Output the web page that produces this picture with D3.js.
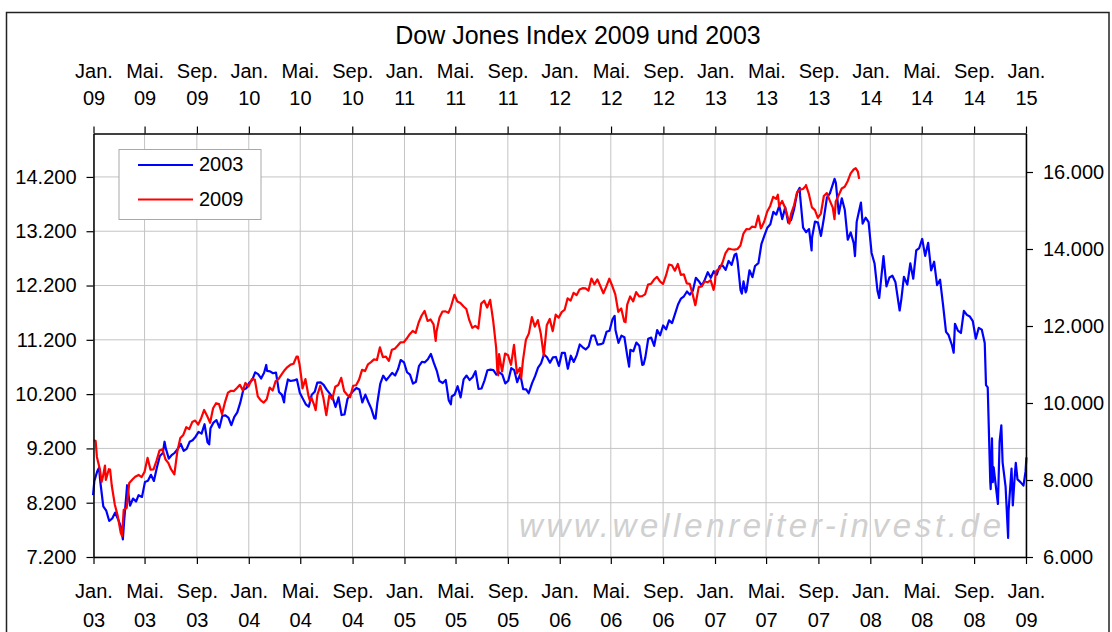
<!DOCTYPE html>
<html>
<head>
<meta charset="utf-8">
<script src="https://cdn.jsdelivr.net/npm/d3@7"></script>
<style>
  body { margin: 0; background: #fff; }
  svg { display: block; font-family: "Liberation Sans", Arial, sans-serif; }
</style>
</head>
<body>
<svg id="chart" width="1112" height="632"></svg>
<script>
// Dow Jones closes 2003-2008 (left axis, bottom time axis)
const dow2003 = [
  ["2002-12-31",8341],["2003-01-03",8601],["2003-01-10",8785],["2003-01-14",8842],["2003-01-17",8586],
  ["2003-01-24",8131],["2003-01-31",8053],["2003-02-07",7864],["2003-02-14",7909],["2003-02-21",8018],
  ["2003-02-28",7891],["2003-03-07",7740],["2003-03-11",7524],["2003-03-14",7859],["2003-03-21",8522],
  ["2003-03-28",8145],["2003-04-04",8277],["2003-04-11",8221],["2003-04-17",8338],["2003-04-25",8307],
  ["2003-05-02",8583],["2003-05-09",8604],["2003-05-16",8713],["2003-05-23",8601],["2003-05-30",8850],
  ["2003-06-06",9062],["2003-06-13",9117],["2003-06-17",9323],["2003-06-20",9201],["2003-06-27",9011],
  ["2003-07-03",9070],["2003-07-11",9120],["2003-07-18",9189],["2003-07-25",9285],["2003-08-01",9154],
  ["2003-08-08",9191],["2003-08-15",9321],["2003-08-22",9349],["2003-08-29",9416],["2003-09-05",9504],
  ["2003-09-12",9472],["2003-09-19",9645],["2003-09-26",9313],["2003-09-30",9275],["2003-10-03",9573],
  ["2003-10-10",9675],["2003-10-17",9722],["2003-10-24",9583],["2003-10-31",9801],["2003-11-07",9810],
  ["2003-11-14",9769],["2003-11-21",9629],["2003-11-28",9782],["2003-12-05",9863],["2003-12-12",10042],
  ["2003-12-19",10278],["2003-12-26",10306],
  ["2004-01-02",10409],["2004-01-09",10458],["2004-01-16",10600],["2004-01-23",10568],["2004-01-30",10488],
  ["2004-02-06",10593],["2004-02-11",10737],["2004-02-13",10628],["2004-02-20",10620],["2004-02-27",10584],
  ["2004-03-05",10595],["2004-03-12",10240],["2004-03-19",10186],["2004-03-24",10048],["2004-03-26",10213],
  ["2004-04-02",10470],["2004-04-08",10442],["2004-04-16",10452],["2004-04-23",10472],["2004-04-30",10226],
  ["2004-05-07",10117],["2004-05-14",10012],["2004-05-21",9967],["2004-05-28",10188],["2004-06-04",10242],
  ["2004-06-10",10410],["2004-06-18",10416],["2004-06-25",10371],["2004-07-02",10282],["2004-07-09",10213],
  ["2004-07-16",10140],["2004-07-23",9962],["2004-07-30",10140],["2004-08-06",9815],["2004-08-13",9825],
  ["2004-08-20",10110],["2004-08-27",10195],["2004-09-03",10260],["2004-09-10",10314],["2004-09-17",10284],
  ["2004-09-24",10047],["2004-10-01",10192],["2004-10-08",10055],["2004-10-15",9933],["2004-10-22",9758],
  ["2004-10-25",9749],["2004-10-29",10027],["2004-11-05",10387],["2004-11-12",10539],["2004-11-19",10456],
  ["2004-11-26",10522],["2004-12-03",10592],["2004-12-10",10543],["2004-12-17",10661],["2004-12-23",10828],
  ["2004-12-31",10783],
  ["2005-01-07",10603],["2005-01-14",10558],["2005-01-21",10393],["2005-01-28",10427],["2005-02-04",10716],
  ["2005-02-11",10796],["2005-02-18",10785],["2005-02-25",10841],["2005-03-04",10940],["2005-03-11",10774],
  ["2005-03-18",10629],["2005-03-24",10442],["2005-04-01",10404],["2005-04-08",10461],["2005-04-15",10088],
  ["2005-04-20",10012],["2005-04-22",10157],["2005-04-29",10192],["2005-05-06",10345],["2005-05-13",10140],
  ["2005-05-20",10471],["2005-05-27",10542],["2005-06-03",10460],["2005-06-10",10512],["2005-06-17",10623],
  ["2005-06-24",10297],["2005-07-01",10303],["2005-07-08",10449],["2005-07-15",10640],["2005-07-22",10651],
  ["2005-07-29",10641],["2005-08-05",10558],["2005-08-12",10600],["2005-08-19",10559],["2005-08-26",10397],
  ["2005-09-02",10447],["2005-09-09",10678],["2005-09-16",10641],["2005-09-23",10420],["2005-09-30",10569],
  ["2005-10-07",10292],["2005-10-14",10287],["2005-10-20",10216],["2005-10-28",10403],["2005-11-04",10531],
  ["2005-11-11",10686],["2005-11-18",10766],["2005-11-25",10931],["2005-12-02",10878],["2005-12-09",10779],
  ["2005-12-16",10876],["2005-12-23",10884],["2005-12-30",10718],
  ["2006-01-06",10959],["2006-01-13",10960],["2006-01-20",10668],["2006-01-27",10907],["2006-02-03",10793],
  ["2006-02-10",10919],["2006-02-17",11115],["2006-02-24",11062],["2006-03-03",11022],["2006-03-10",11077],
  ["2006-03-17",11280],["2006-03-24",11279],["2006-03-31",11109],["2006-04-07",11120],["2006-04-13",11138],
  ["2006-04-21",11347],["2006-04-28",11367],["2006-05-05",11578],["2006-05-10",11642],["2006-05-12",11380],
  ["2006-05-19",11144],["2006-05-26",11278],["2006-06-02",11247],["2006-06-09",10891],["2006-06-13",10706],
  ["2006-06-16",11015],["2006-06-23",10989],["2006-06-30",11150],["2006-07-07",11090],["2006-07-14",10739],
  ["2006-07-17",10747],["2006-07-21",10868],["2006-07-28",11219],["2006-08-04",11240],["2006-08-11",11088],
  ["2006-08-18",11381],["2006-08-25",11284],["2006-09-01",11464],["2006-09-08",11392],["2006-09-15",11560],
  ["2006-09-22",11508],["2006-09-29",11679],["2006-10-06",11850],["2006-10-13",11960],["2006-10-20",12002],
  ["2006-10-27",12090],["2006-11-03",12031],["2006-11-10",12108],["2006-11-17",12342],["2006-11-24",12280],
  ["2006-12-01",12194],["2006-12-08",12307],["2006-12-15",12445],["2006-12-22",12343],["2006-12-29",12463],
  ["2007-01-05",12398],["2007-01-12",12556],["2007-01-19",12565],["2007-01-26",12487],["2007-02-02",12653],
  ["2007-02-09",12580],["2007-02-16",12768],["2007-02-20",12786],["2007-02-23",12647],["2007-03-02",12114],
  ["2007-03-05",12050],["2007-03-09",12276],["2007-03-14",12075],["2007-03-16",12110],["2007-03-23",12481],
  ["2007-03-30",12354],["2007-04-05",12560],["2007-04-13",12612],["2007-04-20",12961],["2007-04-27",13120],
  ["2007-05-04",13265],["2007-05-11",13327],["2007-05-18",13556],["2007-05-25",13507],["2007-06-01",13668],
  ["2007-06-08",13424],["2007-06-15",13639],["2007-06-22",13360],["2007-06-29",13409],["2007-07-06",13611],
  ["2007-07-13",13907],["2007-07-19",14000],["2007-07-20",13851],["2007-07-27",13265],["2007-08-03",13182],
  ["2007-08-10",13240],["2007-08-16",12846],["2007-08-17",13079],["2007-08-24",13379],["2007-08-31",13358],
  ["2007-09-07",13114],["2007-09-14",13443],["2007-09-21",13820],["2007-09-28",13896],["2007-10-05",14066],
  ["2007-10-09",14165],["2007-10-12",14093],["2007-10-19",13522],["2007-10-26",13807],["2007-11-02",13596],
  ["2007-11-09",13043],["2007-11-16",13177],["2007-11-23",12981],["2007-11-26",12743],["2007-11-30",13372],
  ["2007-12-07",13625],["2007-12-10",13727],["2007-12-14",13340],["2007-12-21",13450],["2007-12-28",13366],
  ["2008-01-04",12800],["2008-01-11",12606],["2008-01-18",12099],["2008-01-22",11971],["2008-01-25",12207],
  ["2008-02-01",12743],["2008-02-08",12182],["2008-02-15",12348],["2008-02-22",12381],["2008-02-29",12266],
  ["2008-03-07",11894],["2008-03-10",11740],["2008-03-14",11951],["2008-03-20",12361],["2008-03-28",12216],
  ["2008-04-04",12609],["2008-04-11",12325],["2008-04-18",12849],["2008-04-25",12891],["2008-05-02",13058],
  ["2008-05-09",12745],["2008-05-16",12986],["2008-05-23",12480],["2008-05-30",12638],["2008-06-06",12209],
  ["2008-06-13",12307],["2008-06-20",11843],["2008-06-27",11347],["2008-07-03",11288],["2008-07-11",11100],
  ["2008-07-15",10962],["2008-07-18",11496],["2008-07-25",11370],["2008-08-01",11326],["2008-08-08",11734],
  ["2008-08-15",11659],["2008-08-22",11628],["2008-08-29",11543],["2008-09-05",11220],["2008-09-12",11421],
  ["2008-09-19",11388],["2008-09-26",11143],["2008-09-29",10365],["2008-10-03",10325],["2008-10-09",8579],
  ["2008-10-10",8451],["2008-10-13",9387],["2008-10-15",8578],["2008-10-17",8852],["2008-10-24",8378],
  ["2008-10-27",8176],["2008-10-31",9325],["2008-11-04",9625],["2008-11-07",8943],["2008-11-14",8497],
  ["2008-11-20",7552],["2008-11-21",8046],["2008-11-28",8829],["2008-12-01",8149],["2008-12-05",8635],
  ["2008-12-08",8934],["2008-12-12",8629],["2008-12-19",8579],["2008-12-26",8515],["2008-12-31",8776],
  ["2009-01-02",9034]
];

// Dow Jones closes 2009-2013 (right axis, top time axis)
const dow2009 = [
  ["2009-01-02",9034],["2009-01-06",9015],["2009-01-09",8599],["2009-01-16",8281],["2009-01-20",7949],
  ["2009-01-23",8077],["2009-01-28",8375],["2009-01-30",8000],["2009-02-06",8280],["2009-02-09",8270],
  ["2009-02-13",7850],["2009-02-20",7366],["2009-02-27",7063],["2009-03-06",6627],["2009-03-09",6547],
  ["2009-03-13",7224],["2009-03-20",7278],["2009-03-26",7924],["2009-04-03",8018],["2009-04-09",8083],
  ["2009-04-17",8131],["2009-04-24",8076],["2009-05-01",8212],["2009-05-08",8575],["2009-05-15",8268],
  ["2009-05-22",8277],["2009-05-29",8500],["2009-06-05",8764],["2009-06-12",8799],["2009-06-19",8539],
  ["2009-06-26",8438],["2009-07-02",8280],["2009-07-10",8146],["2009-07-17",8743],["2009-07-24",9093],
  ["2009-07-31",9171],["2009-08-07",9370],["2009-08-14",9321],["2009-08-21",9505],["2009-08-28",9544],
  ["2009-09-04",9441],["2009-09-11",9605],["2009-09-18",9820],["2009-09-25",9665],["2009-10-02",9487],
  ["2009-10-09",9864],["2009-10-16",9995],["2009-10-23",9972],["2009-10-30",9712],["2009-11-06",10023],
  ["2009-11-13",10270],["2009-11-20",10318],["2009-11-27",10309],["2009-12-04",10388],["2009-12-11",10471],
  ["2009-12-18",10328],["2009-12-24",10520],["2009-12-31",10428],
  ["2010-01-08",10618],["2010-01-15",10610],["2010-01-22",10172],["2010-01-29",10067],["2010-02-05",10012],
  ["2010-02-12",10099],["2010-02-19",10402],["2010-02-26",10325],["2010-03-05",10567],["2010-03-12",10625],
  ["2010-03-19",10742],["2010-03-26",10851],["2010-04-01",10927],["2010-04-09",10998],["2010-04-16",11019],
  ["2010-04-23",11204],["2010-04-26",11205],["2010-04-30",11009],["2010-05-06",10520],["2010-05-07",10380],
  ["2010-05-14",10620],["2010-05-21",10193],["2010-05-25",10043],["2010-05-28",10137],["2010-06-04",9931],
  ["2010-06-07",9816],["2010-06-11",10212],["2010-06-18",10450],["2010-06-25",10144],["2010-07-02",9686],
  ["2010-07-09",10198],["2010-07-16",10098],["2010-07-23",10424],["2010-07-30",10466],["2010-08-06",10654],
  ["2010-08-13",10303],["2010-08-20",10213],["2010-08-27",10150],["2010-09-03",10448],["2010-09-10",10462],
  ["2010-09-17",10607],["2010-09-24",10860],["2010-10-01",10829],["2010-10-08",11006],["2010-10-15",11063],
  ["2010-10-22",11133],["2010-10-29",11118],["2010-11-05",11445],["2010-11-12",11193],["2010-11-19",11204],
  ["2010-11-26",11092],["2010-12-03",11382],["2010-12-10",11411],["2010-12-17",11492],["2010-12-23",11573],
  ["2010-12-31",11578],
  ["2011-01-07",11675],["2011-01-14",11787],["2011-01-21",11871],["2011-01-28",11823],["2011-02-04",12092],
  ["2011-02-11",12273],["2011-02-18",12391],["2011-02-25",12130],["2011-03-04",12170],["2011-03-11",12044],
  ["2011-03-16",11613],["2011-03-18",11858],["2011-03-25",12221],["2011-04-01",12376],["2011-04-08",12380],
  ["2011-04-15",12342],["2011-04-21",12505],["2011-04-29",12811],["2011-05-06",12638],["2011-05-13",12596],
  ["2011-05-20",12512],["2011-05-27",12441],["2011-06-03",12151],["2011-06-10",11952],["2011-06-17",12004],
  ["2011-06-24",11934],["2011-07-01",12582],["2011-07-08",12657],["2011-07-15",12480],["2011-07-22",12681],
  ["2011-07-29",12143],["2011-08-05",11445],["2011-08-08",10810],["2011-08-10",10719],["2011-08-12",11269],
  ["2011-08-19",10818],["2011-08-26",11285],["2011-09-02",11240],["2011-09-09",10992],["2011-09-16",11509],
  ["2011-09-23",10771],["2011-09-30",10913],["2011-10-03",10655],["2011-10-07",11103],["2011-10-14",11644],
  ["2011-10-21",11809],["2011-10-28",12231],["2011-11-04",11983],["2011-11-11",12153],["2011-11-18",11796],
  ["2011-11-25",11231],["2011-12-02",12019],["2011-12-09",12184],["2011-12-16",11866],["2011-12-23",12294],
  ["2011-12-30",12217],
  ["2012-01-06",12360],["2012-01-13",12422],["2012-01-20",12720],["2012-01-27",12660],["2012-02-03",12862],
  ["2012-02-10",12801],["2012-02-17",12950],["2012-02-24",12983],["2012-03-02",12977],["2012-03-09",12922],
  ["2012-03-16",13233],["2012-03-23",13081],["2012-03-30",13212],["2012-04-05",13060],["2012-04-13",12850],
  ["2012-04-20",13029],["2012-04-27",13228],["2012-05-04",13038],["2012-05-11",12821],["2012-05-18",12369],
  ["2012-05-25",12454],["2012-06-01",12119],["2012-06-04",12101],["2012-06-08",12554],["2012-06-15",12767],
  ["2012-06-22",12640],["2012-06-29",12880],["2012-07-06",12772],["2012-07-13",12777],["2012-07-20",12822],
  ["2012-07-27",13075],["2012-08-03",13096],["2012-08-10",13207],["2012-08-17",13275],["2012-08-24",13157],
  ["2012-08-31",13090],["2012-09-07",13306],["2012-09-14",13593],["2012-09-21",13579],["2012-09-28",13437],
  ["2012-10-05",13610],["2012-10-12",13328],["2012-10-19",13343],["2012-10-26",13107],["2012-11-02",13093],
  ["2012-11-09",12815],["2012-11-15",12542],["2012-11-16",12588],["2012-11-23",13010],["2012-11-30",13026],
  ["2012-12-07",13155],["2012-12-14",13135],["2012-12-21",13190],["2012-12-28",12938],["2012-12-31",13104],
  ["2013-01-02",13412],["2013-01-04",13435],["2013-01-11",13488],["2013-01-18",13650],["2013-01-25",13896],
  ["2013-02-01",14009],["2013-02-08",13993],["2013-02-15",13982],["2013-02-22",14001],["2013-03-01",14090],
  ["2013-03-08",14397],["2013-03-15",14515],["2013-03-22",14513],["2013-03-28",14579],["2013-04-05",14565],
  ["2013-04-12",14865],["2013-04-18",14537],["2013-04-19",14548],["2013-04-26",14713],["2013-05-03",14974],
  ["2013-05-10",15118],["2013-05-17",15354],["2013-05-24",15303],["2013-05-28",15409],["2013-05-31",15116],
  ["2013-06-07",15248],["2013-06-14",15071],["2013-06-21",14800],["2013-06-24",14660],["2013-06-28",14910],
  ["2013-07-05",15136],["2013-07-12",15465],["2013-07-19",15544],["2013-07-26",15559],["2013-08-01",15628],
  ["2013-08-02",15659],["2013-08-09",15425],["2013-08-16",15081],["2013-08-23",15010],["2013-08-30",14810],
  ["2013-09-06",14922],["2013-09-13",15376],["2013-09-20",15452],["2013-09-27",15258],["2013-10-04",15073],
  ["2013-10-08",14776],["2013-10-11",15237],["2013-10-18",15400],["2013-10-25",15570],["2013-11-01",15615],
  ["2013-11-08",15762],["2013-11-15",15962],["2013-11-22",16065],["2013-11-27",16097],["2013-12-02",16008],
  ["2013-12-05",15822]
];

const seriesNames = ["2003", "2009"];
const seriesColors = ["#0000ff", "#ff0000"];
const monthNames = ["Jan.","Feb.","Mär.","Apr.","Mai.","Jun.","Jul.","Aug.","Sep.","Okt.","Nov.","Dez."];
const leftTicks = [7200, 8200, 9200, 10200, 11200, 12200, 13200, 14200];
const rightTicks = [6000, 8000, 10000, 12000, 14000, 16000];

// dimensions
const margin = { top: 133.5, right: 86, bottom: 75, left: 93.5 };
const W = 1112, H = 632;
const width = W - margin.left - margin.right;
const height = H - margin.top - margin.bottom;

const parse = d3.timeParse("%Y-%m-%d");
const de = d3.formatLocale({ decimal: ",", thousands: ".", grouping: [3], currency: ["", " €"] });
const fmt = de.format(",d");

const svg = d3.select("#chart");

// outer frame
svg.append("rect")
  .attr("x", 6.5).attr("y", 12.5)
  .attr("width", 1102.5).attr("height", 640)
  .attr("fill", "none").attr("stroke", "#222").attr("stroke-width", 1.5);

// title
svg.append("text")
  .attr("x", 578).attr("y", 44)
  .attr("text-anchor", "middle")
  .style("font-size", "25px")
  .text("Dow Jones Index 2009 und 2003");

const g = svg.append("g").attr("transform", `translate(${margin.left},${margin.top})`);

// scales
const xBottom = d3.scaleTime().domain([new Date(2003, 0, 1), new Date(2009, 0, 1)]).range([0, width]);
const xTop = d3.scaleTime().domain([new Date(2009, 0, 1), new Date(2015, 0, 1)]).range([0, width]);
const yLeft = d3.scaleLinear().domain([7200, 15000]).range([height, 0]);
const yRight = d3.scaleLinear().domain([6000, 17000]).range([height, 0]);

const bottomTicks = d3.timeMonth.every(4).range(new Date(2003, 0, 1), new Date(2009, 0, 2));
const topTicks = d3.timeMonth.every(4).range(new Date(2009, 0, 1), new Date(2015, 0, 2));

// gridlines
g.append("g").selectAll("line")
  .data(leftTicks)
  .join("line")
  .attr("x1", 0).attr("x2", width)
  .attr("y1", d => yLeft(d)).attr("y2", d => yLeft(d))
  .attr("stroke", "#c4c4c4").attr("stroke-width", 1);

g.append("g").selectAll("line")
  .data(bottomTicks)
  .join("line")
  .attr("x1", d => xBottom(d)).attr("x2", d => xBottom(d))
  .attr("y1", 0).attr("y2", height)
  .attr("stroke", "#c4c4c4").attr("stroke-width", 1);

// watermark
g.append("text")
  .attr("x", 519 - margin.left).attr("y", 537 - margin.top)
  .attr("textLength", 482).attr("lengthAdjust", "spacing")
  .style("font-size", "33px").style("font-style", "italic")
  .style("fill", "#d0d0d0")
  .text("www.wellenreiter-invest.de");

// lines
const line03 = d3.line().x(d => xBottom(parse(d[0]))).y(d => yLeft(d[1]));
const line09 = d3.line().x(d => xTop(parse(d[0]))).y(d => yRight(d[1]));

g.append("path").datum(dow2003)
  .attr("fill", "none").attr("stroke", seriesColors[0])
  .attr("stroke-width", 2.2).attr("stroke-linejoin", "round")
  .attr("d", line03);

g.append("path").datum(dow2009)
  .attr("fill", "none").attr("stroke", seriesColors[1])
  .attr("stroke-width", 2.2).attr("stroke-linejoin", "round")
  .attr("d", line09);

// axes
function styleAxis(sel) {
  sel.attr("font-family", null).attr("font-size", null);
  sel.select(".domain").attr("stroke", "#000").attr("stroke-width", 1.5);
  sel.selectAll(".tick line").attr("stroke", "#000").attr("stroke-width", 1.2);
  sel.selectAll(".tick text").style("font-size", "20px").attr("fill", "#000");
}

function twoLineLabels(sel, y1, y2) {
  sel.selectAll(".tick text").each(function (d) {
    const t = d3.select(this).text(null).attr("y", null).attr("dy", null);
    t.append("tspan").attr("x", 0).attr("y", y1).text(monthNames[d.getMonth()]);
    t.append("tspan").attr("x", 0).attr("y", y2).text(d3.timeFormat("%y")(d));
  });
}

g.append("g")
  .attr("transform", `translate(0,${height})`)
  .call(d3.axisBottom(xBottom).tickValues(bottomTicks).tickSize(7).tickSizeOuter(0))
  .call(styleAxis)
  .call(s => twoLineLabels(s, 41, 69.5));

g.append("g")
  .call(d3.axisTop(xTop).tickValues(topTicks).tickSize(7).tickSizeOuter(0))
  .call(styleAxis)
  .call(s => twoLineLabels(s, -56, -28.5));

g.append("g")
  .call(d3.axisLeft(yLeft).tickValues(leftTicks).tickFormat(fmt).tickSize(7).tickPadding(10).tickSizeOuter(0))
  .call(styleAxis);

g.append("g")
  .attr("transform", `translate(${width},0)`)
  .call(d3.axisRight(yRight).tickValues(rightTicks).tickFormat(fmt).tickSize(7).tickPadding(10).tickSizeOuter(0))
  .call(styleAxis);

// legend
const legend = svg.append("g").attr("transform", "translate(119,149.5)");
legend.append("rect")
  .attr("width", 142).attr("height", 70)
  .attr("fill", "#fff").attr("stroke", "#a8a8a8").attr("stroke-width", 1);

seriesNames.forEach((name, i) => {
  const row = legend.append("g").attr("transform", `translate(0,${15.5 + i * 34.5})`);
  row.append("line")
    .attr("x1", 19).attr("x2", 74)
    .attr("stroke", seriesColors[i]).attr("stroke-width", 2);
  row.append("text")
    .attr("x", 80).attr("y", 6)
    .style("font-size", "20px")
    .text(name);
});
</script>
</body>
</html>
